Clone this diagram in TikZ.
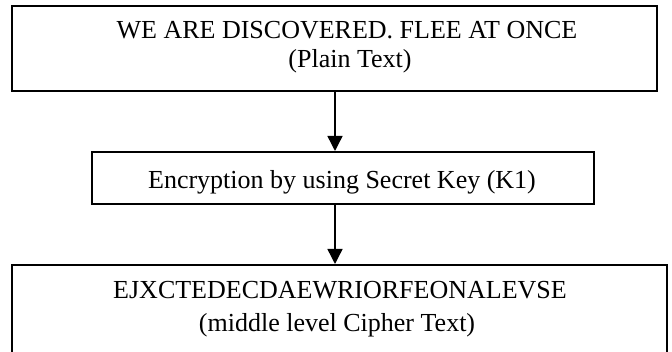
\documentclass[tikz,border=0pt]{standalone}
\usepackage{fontspec}
\setmainfont{Liberation Serif}
\usetikzlibrary{arrows.meta}
\begin{document}
\begin{tikzpicture}[x=1pt,y=-1pt,
  box/.style={draw=black,line width=1.6pt,fill=white},
  lbl/.style={anchor=base,inner sep=0pt,font=\fontsize{26}{30}\selectfont},
  flow/.style={draw=black,line width=1.4pt,-{Triangle[length=15pt,width=15pt]}}]
\useasboundingbox (0,0) rectangle (672,352);
% boxes
\draw[box] (12,6) rectangle (657,91);
\draw[box] (92,152) rectangle (594,204);
\draw[box] (12,265) rectangle (667,356);
\coordinate (top) at (335,91);
\coordinate (midtop) at (335,151);
\coordinate (midbot) at (335,204);
\coordinate (bottop) at (335,264);
% texts
\node[lbl] (t1) at (347,39) {WE ARE DISCOVERED. FLEE AT ONCE};
\node[lbl] (t2) at (350,68) {(Plain Text)};
\node[lbl] (t3) at (342,189) {Encryption by using Secret Key (K1)};
\node[lbl] (t4) at (340,299) {EJXCTEDECDAEWRIORFEONALEVSE};
\node[lbl] (t5) at (337,332) {(middle level Cipher Text)};
% connectors
\draw[flow] (top) -- (midtop);
\draw[flow] (midbot) -- (bottop);
\end{tikzpicture}
\end{document}
